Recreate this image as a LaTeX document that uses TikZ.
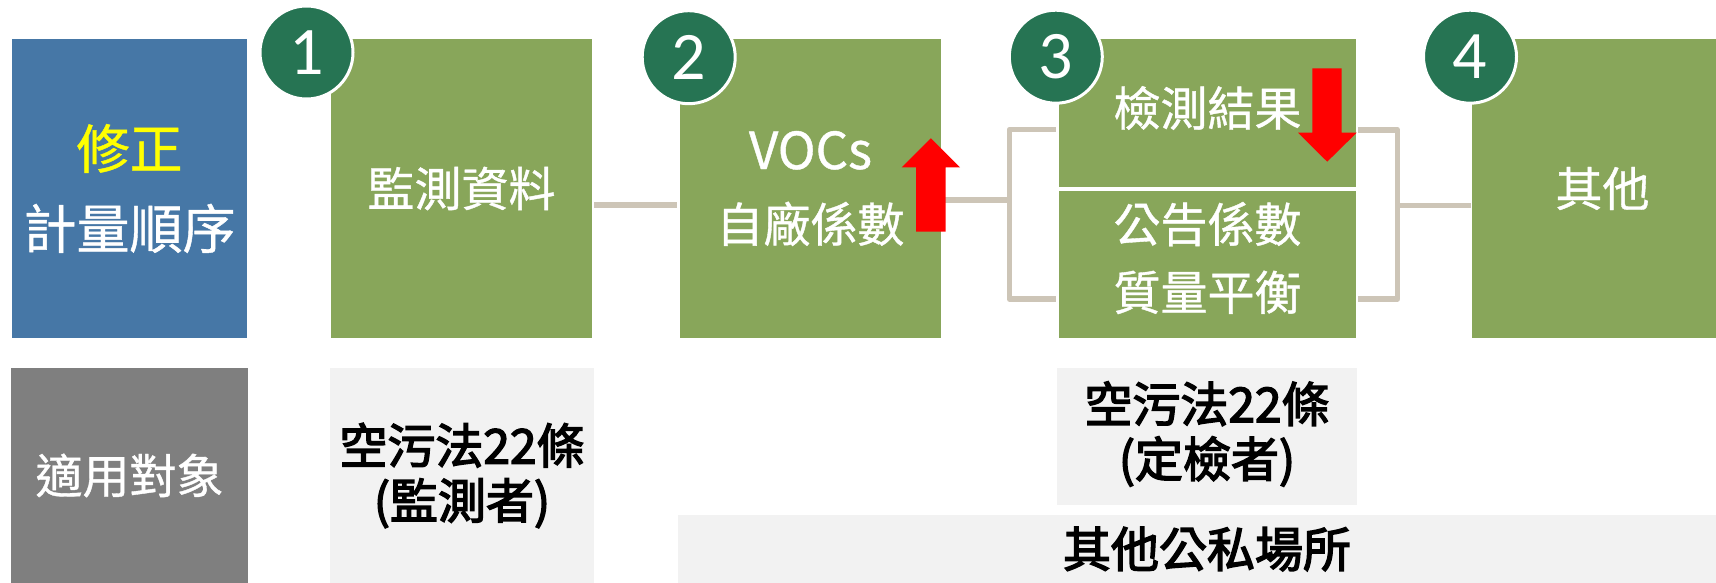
\documentclass[tikz,border=0pt]{standalone}
\usepackage{fontspec}
\setmainfont{Noto Sans CJK TC}
\newfontfamily\wfont{Noto Sans CJK TC}[FakeBold=0.8]
\newfontfamily\bfont{Noto Sans CJK TC}[FakeBold=3]
\newfontfamily\digitfont{Carlito}
\definecolor{boxblue}{RGB}{70,119,166}
\definecolor{boxgreen}{RGB}{136,166,90}
\definecolor{badgegreen}{RGB}{38,116,83}
\definecolor{boxgray}{RGB}{127,127,127}
\definecolor{lightbg}{RGB}{242,242,242}
\definecolor{connc}{RGB}{205,197,183}
\definecolor{hiyellow}{RGB}{255,255,0}
\definecolor{arrowred}{RGB}{255,0,0}
\begin{document}
\begin{tikzpicture}[x=1pt,y=-1pt,
  box/.style={inner sep=0pt, outer sep=0pt, align=center},
  gbox/.style={box, fill=boxgreen, text=white, minimum width=261pt, minimum height=299pt, font=\wfont\fontsize{47}{60}\selectfont},
  hbox/.style={box, fill=boxgreen, minimum width=297pt, minimum height=147.5pt},
  lbox/.style={box, fill=lightbg, text=black, font=\bfont\fontsize{48}{55}\selectfont},
  wtext/.style={inner sep=0pt, text=white, align=center},
  btext/.style={inner sep=0pt, text=black, align=center, font=\bfont\fontsize{48}{55}\selectfont},
  badge/.style={circle, fill=badgegreen, draw=white, line width=3pt, minimum size=93pt, inner sep=0pt, text=white, font=\digitfont\fontsize{68}{68}\selectfont},
  conn/.style={draw=connc, line width=5.5pt, line join=round},
  blockarrow/.style={fill=arrowred}
]
\useasboundingbox (0,0) rectangle (1716,583);

% left column
\node[box, fill=boxblue, minimum width=235pt, minimum height=299pt, text=white,
      font=\wfont\fontsize{53}{80}\selectfont] (rev) at (129.5,188.5)
      {{\color{hiyellow}修正}\\計量順序};
\node[box, fill=boxgray, minimum width=237pt, minimum height=215pt, text=white,
      font=\wfont\fontsize{47}{60}\selectfont] (scope) at (129.5,475.5) {適用對象};

% top row boxes
\node[gbox, font=\wfont\fontsize{47}{73}\selectfont] (b2) at (810.5,188.5) {{\fontsize{51}{73}\selectfont VOCs}\\自廠係數};
\node[gbox] (b1) at (461.5,188.5) {監測資料};
\node[hbox] (b3a) at (1207.5,113.25) {};
\node[hbox] (b3b) at (1207.5,264.25) {};
\node[wtext, font=\wfont\fontsize{47}{60}\selectfont] (t3a) at (1207.5,108) {檢測結果};
\node[wtext, font=\wfont\fontsize{47}{68}\selectfont] (t3b) at (1207.5,258) {公告係數\\質量平衡};
\node[gbox] (b4) at (1602.5,188.5) {其他};

% bottom row boxes
\node[lbox, minimum width=264pt, minimum height=215pt] (s1) at (462,475.5) {空污法22條\\(監測者)};
\node[lbox, minimum width=300pt, minimum height=137pt] (s3) at (1207,436.5) {};
\node[btext] (s3t) at (1207,434) {空污法22條\\(定檢者)};
\node[lbox, minimum width=1058pt, minimum height=68pt] (bar) at (1207,549) {其他公私場所};

% connectors
\coordinate (m1) at (636,205);
\draw[conn, shorten <=2pt, shorten >=3pt] (b1.east |- m1) -- (b2.west |- m1);

\coordinate (lm) at (1009.3,200);
\coordinate (lt) at (1009.3,129.5);
\coordinate (lb) at (1009.3,299);
\coordinate (lta) at (1056,129.5);
\coordinate (lba) at (1056,299);
\draw[conn] (b2.east |- lm) -- (lm);
\draw[conn] (lta) -- (lt) -- (lb) -- (lba);

\coordinate (rm) at (1397.5,205.5);
\coordinate (rt) at (1397.5,129.8);
\coordinate (rb) at (1397.5,299);
\coordinate (rta) at (1358,129.8);
\coordinate (rba) at (1358,299);
\draw[conn] (rta) -- (rt) -- (rb) -- (rba);
\draw[conn, shorten >=1.5pt] (rm) -- (b4.west |- rm);

% red block arrows
\fill[blockarrow] (916,231.7) -- (916,167.3) -- (901.7,167.3) -- (930.8,138.3)
   -- (960,167.3) -- (945.7,167.3) -- (945.7,231.7) -- cycle;
\fill[blockarrow] (1312.3,68.3) -- (1341.7,68.3) -- (1341.7,132.7) -- (1356.7,132.7)
   -- (1327.2,161.7) -- (1298,132.7) -- (1312.3,132.7) -- cycle;

% step badges
\node[badge] (n1) at (306.5,52.5) {1};
\node[badge] (n2) at (688.7,57.2) {2};
\node[badge] (n3) at (1055.8,56.7) {3};
\node[badge] (n4) at (1470,56.7) {4};
\end{tikzpicture}
\end{document}
